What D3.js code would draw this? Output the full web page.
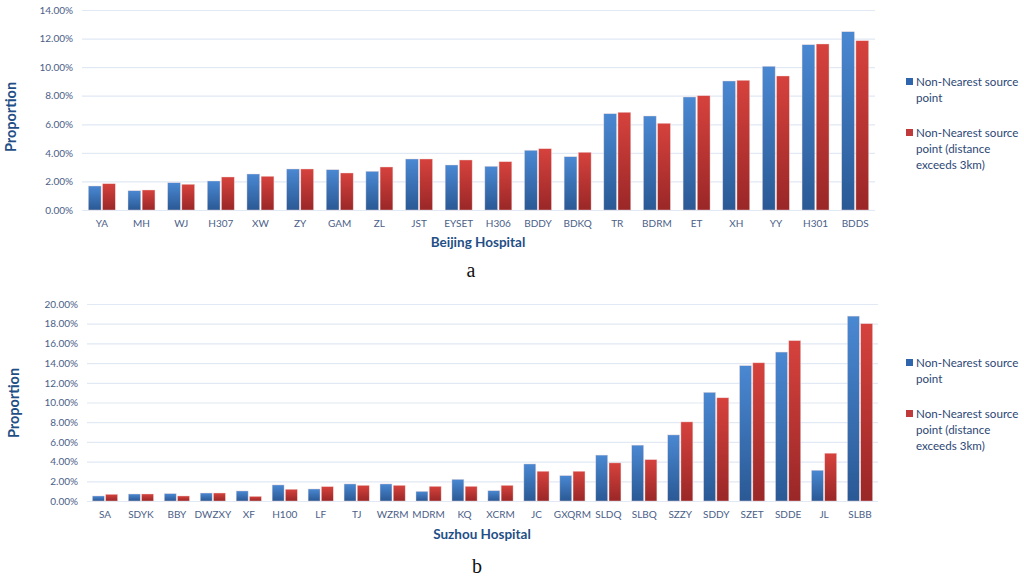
<!DOCTYPE html>
<meta charset="utf-8">
<script src="https://d3js.org/d3.v7.min.js"></script>
<style>
  body { margin: 0; background: #fff; }
  text { font-family: Lato, "Open Sans", sans-serif; }
</style>
<div id="my_dataviz"></div>
<script>

// ---- data (values in %) ----
var seriesNames = ["Non-Nearest source point", "Non-Nearest source point (distance exceeds 3km)"];

var bjHospitals = ["YA","MH","WJ","H307","XW","ZY","GAM","ZL","JST","EYSET","H306","BDDY","BDKQ","TR","BDRM","ET","XH","YY","H301","BDDS"];
var bjNearest = [1.68,1.35,1.91,2.03,2.52,2.87,2.82,2.71,3.57,3.15,3.06,4.18,3.73,6.74,6.58,7.91,9.03,10.06,11.57,12.48];
var bjFar     = [1.84,1.40,1.80,2.31,2.36,2.87,2.59,3.01,3.57,3.50,3.38,4.29,4.04,6.84,6.07,8.00,9.08,9.38,11.62,11.85];
var bjTicks = [0,2,4,6,8,10,12,14];

var szHospitals = ["SA","SDYK","BBY","DWZXY","XF","H100","LF","TJ","WZRM","MDRM","KQ","XCRM","JC","GXQRM","SLDQ","SLBQ","SZZY","SDDY","SZET","SDDE","JL","SLBB"];
var szNearest = [0.51,0.71,0.75,0.81,1.02,1.63,1.22,1.73,1.73,0.98,2.20,1.05,3.76,2.58,4.66,5.67,6.71,11.03,13.74,15.12,3.12,18.77];
var szFar     = [0.68,0.71,0.51,0.81,0.47,1.19,1.46,1.59,1.59,1.49,1.49,1.59,3.02,3.02,3.87,4.20,8.03,10.48,14.03,16.28,4.85,18.00];
var szTicks = [0,2,4,6,8,10,12,14,16,18,20];

var svg = d3.select("#my_dataviz")
  .append("svg")
    .attr("width", 1024)
    .attr("height", 578);

// bar gradients, lighter on top like the office chart
var defs = svg.append("defs");
function gradient(id, top, bottom) {
  var g = defs.append("linearGradient").attr("id", id)
    .attr("x1", 0).attr("y1", 0).attr("x2", 0).attr("y2", 1);
  g.append("stop").attr("offset", "0%").attr("stop-color", top);
  g.append("stop").attr("offset", "100%").attr("stop-color", bottom);
}
gradient("gBlue", "#4a88d2", "#2a5995");
gradient("gRed", "#d6423d", "#9a2727");
var fills = ["url(#gBlue)", "url(#gRed)"];
var legendFills = ["#2f65ad", "#c0393b"];

function drawPanel(p) {
  var g = svg.append("g");

  var x = d3.scaleBand()
    .domain(p.cats)
    .range(p.xRange)
    .paddingInner(p.pad)
    .paddingOuter(p.pad / 2);

  var x1 = d3.scaleBand()
    .domain([0, 1])
    .range([0, x.bandwidth()])
    .paddingInner(0.1);

  var y = d3.scaleLinear()
    .domain([0, p.ticks[p.ticks.length - 1]])
    .range(p.yRange);

  // gridlines + y labels
  g.append("g")
    .attr("transform", "translate(" + p.xRange[0] + ",0)")
    .call(d3.axisLeft(y).tickValues(p.ticks)
      .tickSize(-(p.xRange[1] - p.xRange[0]))
      .tickPadding(9)
      .tickFormat(function(d) { return d.toFixed(2) + "%"; }))
    .call(function(a) {
      a.select(".domain").remove();
      a.selectAll("line").attr("stroke", "#e1e9f4").attr("stroke-width", 1.2);
      a.selectAll("text").attr("fill", "#4b6087").style("font-size", "10px")
        .style("font-family", "Lato, sans-serif");
    });

  // x labels
  g.append("g")
    .attr("transform", "translate(0," + p.yRange[0] + ")")
    .call(d3.axisBottom(x).tickSize(0).tickPadding(10))
    .call(function(a) {
      a.select(".domain").remove();
      a.selectAll("text").attr("fill", "#4b6087").style("font-size", "10px")
        .style("font-family", "Lato, sans-serif");
    });

  // bars
  var rows = p.cats.map(function(c, i) { return {cat: c, v: [p.s1[i], p.s2[i]]}; });
  g.append("g")
    .selectAll("g")
    .data(rows)
    .enter().append("g")
      .attr("transform", function(d) { return "translate(" + x(d.cat) + ",0)"; })
    .selectAll("rect")
    .data(function(d) { return d.v.map(function(v, k) { return {k: k, v: v}; }); })
    .enter().append("rect")
      .attr("x", function(d) { return x1(d.k); })
      .attr("y", function(d) { return y(d.v); })
      .attr("width", x1.bandwidth())
      .attr("height", function(d) { return y(0) - y(d.v); })
      .attr("fill", function(d) { return fills[d.k]; })
      .attr("stroke", "#f0d8d8")
      .attr("stroke-width", 0.6)
      .attr("stroke-opacity", 0.7);

  // y title
  g.append("text")
    .attr("transform", "translate(" + p.yTitleX + "," + p.yTitleY + ") rotate(-90)")
    .attr("text-anchor", "middle")
    .attr("fill", "#1f4f86")
    .style("font-size", "14.5px")
    .style("font-weight", "bold")
    .text("Proportion");

  // x title
  g.append("text")
    .attr("x", p.xTitleX).attr("y", p.xTitleY)
    .attr("text-anchor", "middle")
    .attr("fill", "#1f4f86")
    .style("font-size", "13.5px")
    .style("font-weight", "bold")
    .text(p.xTitle);

  // panel letter
  g.append("text")
    .attr("x", p.letterX).attr("y", p.letterY)
    .attr("text-anchor", "middle")
    .attr("fill", "#111")
    .style("font-family", "'Liberation Serif', serif")
    .style("font-size", "20px")
    .text(p.letter);

  // legend
  var lines = [["Non-Nearest source", "point"], ["Non-Nearest source", "point (distance", "exceeds 3km)"]];
  var lg = g.append("g").attr("transform", "translate(906," + p.legendY + ")");
  lines.forEach(function(ls, k) {
    var yy = k * 51;
    lg.append("rect")
      .attr("x", 0).attr("y", yy - 8)
      .attr("width", 7).attr("height", 7)
      .attr("fill", legendFills[k]);
    ls.forEach(function(t, j) {
      lg.append("text")
        .attr("x", 10).attr("y", yy + j * 16)
        .attr("fill", "#2c4775")
        .style("font-size", "11.6px")
        .text(t);
    });
  });
}

drawPanel({
  cats: bjHospitals, s1: bjNearest, s2: bjFar, ticks: bjTicks,
  xRange: [82, 875], yRange: [210, 10], pad: 0.32,
  yTitleX: 16, yTitleY: 117,
  xTitle: "Beijing Hospital", xTitleX: 478, xTitleY: 247,
  letter: "a", letterX: 471, letterY: 277,
  legendY: 86
});

drawPanel({
  cats: szHospitals, s1: szNearest, s2: szFar, ticks: szTicks,
  xRange: [87, 878], yRange: [501, 304], pad: 0.3,
  yTitleX: 19, yTitleY: 403,
  xTitle: "Suzhou Hospital", xTitleX: 482, xTitleY: 539,
  letter: "b", letterX: 477, letterY: 573,
  legendY: 367
});

</script>
